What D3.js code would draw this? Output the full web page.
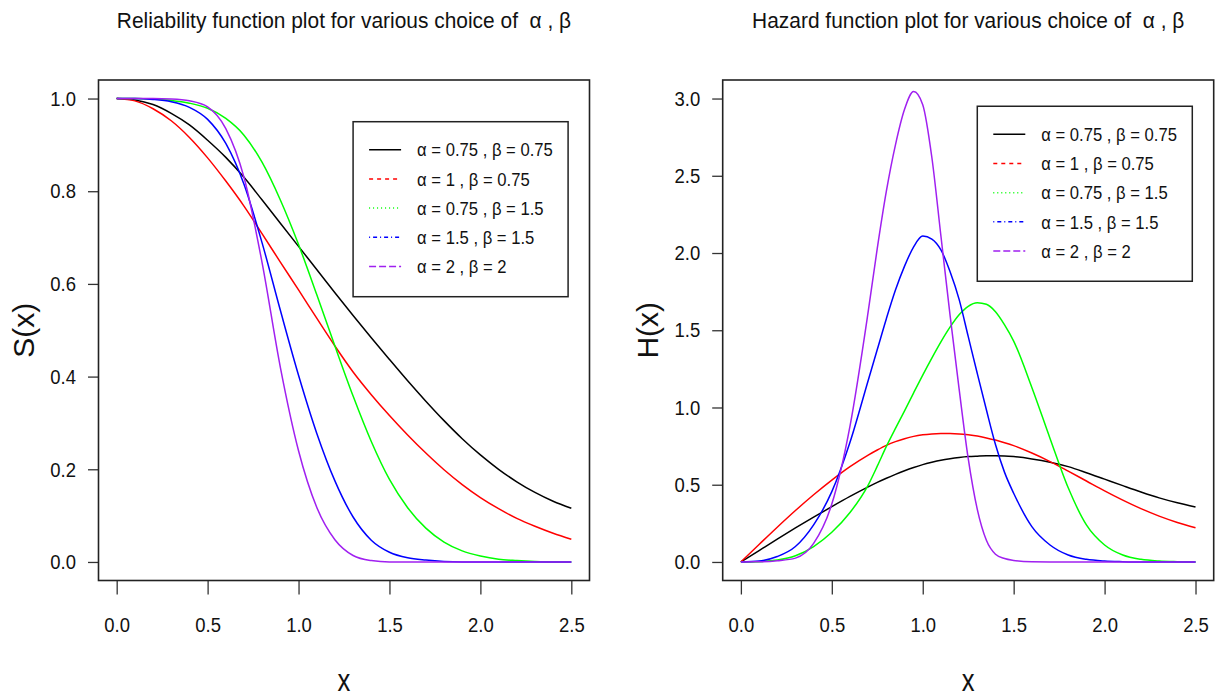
<!DOCTYPE html>
<html>
<head>
<meta charset="utf-8">
<script src="https://cdn.jsdelivr.net/npm/d3@7"></script>
<style>
html, body { margin: 0; padding: 0; background: #ffffff; }
svg { display: block; font-family: "Liberation Sans", Arial, Helvetica, sans-serif; }
text { white-space: pre; }
</style>
</head>
<body>
<svg id="chart" width="1227" height="700"></svg>
<script>
// ---------- data ----------
const xS = [0,0.1,0.2,0.3,0.4,0.5,0.6,0.7,0.8,0.9,1.0,1.1,1.2,1.3,1.4,1.5,1.6,1.7,1.8,1.9,2.0,2.1,2.2,2.3,2.4,2.5];
const sBlack  = [1.000,0.997,0.987,0.968,0.943,0.910,0.873,0.830,0.781,0.731,0.681,0.631,0.581,0.532,0.484,0.437,0.391,0.347,0.305,0.266,0.231,0.200,0.173,0.150,0.131,0.116];
const sRed    = [1.000,0.995,0.978,0.952,0.916,0.872,0.822,0.768,0.708,0.647,0.587,0.526,0.466,0.410,0.361,0.316,0.274,0.235,0.199,0.167,0.139,0.115,0.094,0.077,0.062,0.049];
const sGreen  = [1.000,1.000,0.999,0.996,0.990,0.979,0.957,0.921,0.862,0.781,0.685,0.577,0.466,0.358,0.260,0.178,0.117,0.073,0.043,0.024,0.013,0.006,0.003,0.001,0.000,0.000];
const sBlue   = [1.000,1.000,0.998,0.993,0.981,0.955,0.903,0.815,0.688,0.543,0.403,0.278,0.175,0.097,0.047,0.021,0.009,0.004,0.001,0,0,0,0,0,0,0];
const sPurple = [1.000,1.000,1.000,0.999,0.995,0.982,0.935,0.830,0.645,0.420,0.240,0.118,0.048,0.014,0.003,0,0,0,0,0,0,0,0,0,0,0];

const xH = [0,0.1,0.2,0.3,0.4,0.5,0.6,0.7,0.75,0.8,0.85,0.9,0.95,1.0,1.05,1.1,1.15,1.2,1.25,1.3,1.35,1.4,1.45,1.5,1.6,1.7,1.8,1.9,2.0,2.1,2.2,2.3,2.4,2.5];
const hBlack  = [0,0.074,0.148,0.220,0.290,0.358,0.424,0.486,0.515,0.542,0.567,0.590,0.611,0.630,0.645,0.658,0.668,0.676,0.682,0.685,0.687,0.687,0.686,0.682,0.667,0.646,0.617,0.578,0.536,0.494,0.453,0.415,0.383,0.356];
const hRed    = [0,0.113,0.225,0.333,0.435,0.530,0.617,0.692,0.725,0.755,0.779,0.798,0.813,0.823,0.829,0.832,0.832,0.829,0.823,0.815,0.803,0.789,0.772,0.753,0.705,0.650,0.588,0.524,0.460,0.400,0.345,0.297,0.256,0.222];
const hGreen  = [0,0.002,0.012,0.040,0.100,0.192,0.320,0.498,0.620,0.748,0.865,0.978,1.095,1.210,1.320,1.425,1.520,1.600,1.655,1.678,1.668,1.620,1.535,1.430,1.130,0.800,0.480,0.240,0.110,0.045,0.017,0.006,0.002,0.000];
const hBlue   = [0,0.006,0.035,0.100,0.240,0.455,0.775,1.175,1.375,1.575,1.760,1.915,2.040,2.110,2.090,2.020,1.880,1.700,1.460,1.220,0.985,0.760,0.580,0.445,0.229,0.110,0.045,0.017,0.006,0.002,0,0,0,0];
const hPurple = [0,0.001,0.008,0.025,0.120,0.375,0.880,1.620,2.030,2.400,2.700,2.930,3.045,2.960,2.620,2.110,1.600,1.120,0.670,0.340,0.140,0.050,0.022,0.010,0.001,0,0,0,0,0,0,0,0,0];

const seriesLabels = ["α = 0.75 , β = 0.75", "α = 1 , β = 0.75", "α = 0.75 , β = 1.5", "α = 1.5 , β = 1.5", "α = 2 , β = 2"];
const seriesColors = ["#000000", "#FF0000", "#00FF00", "#0000FF", "#A020F0"];
const legendDash   = [null, "4,4", "1,3", "1,3,4,3", "7,3"];

const xLim = [0, 2.5];
const xTicks = [0, 0.5, 1.0, 1.5, 2.0, 2.5];
const yLimS = [0, 1];
const yTicksS = [0, 0.2, 0.4, 0.6, 0.8, 1.0];
const yLimH = [0, 3];
const yTicksH = [0, 0.5, 1.0, 1.5, 2.0, 2.5, 3.0];
const titles = ["Reliability function plot for various choice of  α , β",
                "Hazard function plot for various choice of  α , β"];
const yLabels = ["S(x)", "H(x)"];
const xLabel = "x";
const legendPos = [[1.3, 0.95], [1.3, 2.95]];

// ---------- drawing ----------
const svg = d3.select("#chart");
svg.append("rect").attr("width", 1227).attr("height", 700).attr("fill", "#ffffff");

function squeeze(sel, k) {
  sel.each(function () {
    const t = d3.select(this);
    const x = +t.attr("x") || 0;
    t.attr("transform", `translate(${x},0) scale(${k},1) translate(${-x},0)`);
  });
}
const expand = l => [l[0] - 0.04 * (l[1] - l[0]), l[1] + 0.04 * (l[1] - l[0])];

function panel(cfg) {
  const { left, right, top, bottom, xs, ys, yLim, yTicks, title, ylab, legend } = cfg;
  const x = d3.scaleLinear().domain(expand(xLim)).range([left, right]);
  const y = d3.scaleLinear().domain(expand(yLim)).range([bottom, top]);
  const g = svg.append("g");

  // axes
  const ax = g.append("g").attr("transform", `translate(0,${bottom})`)
    .call(d3.axisBottom(x).tickValues(xTicks).tickFormat(d3.format(".1f"))
      .tickSize(14).tickPadding(23).tickSizeOuter(0));
  ax.select(".domain").remove();
  ax.selectAll("line").attr("stroke", "#333").attr("stroke-width", 1.3);
  ax.selectAll("text").attr("font-size", 21).attr("fill", "#111");
  squeeze(ax.selectAll("text"), 0.88);

  const ay = g.append("g").attr("transform", `translate(${left},0)`)
    .call(d3.axisLeft(y).tickValues(yTicks).tickFormat(d3.format(".1f"))
      .tickSize(10.5).tickPadding(12).tickSizeOuter(0));
  ay.select(".domain").remove();
  ay.selectAll("line").attr("stroke", "#333").attr("stroke-width", 1.3);
  ay.selectAll("text").attr("font-size", 21).attr("fill", "#111");
  squeeze(ay.selectAll("text"), 0.88);
  ax.attr("font-family", null).attr("font-size", null);
  ay.attr("font-family", null).attr("font-size", null);

  // curves
  const line = d3.line().x(d => x(d[0])).y(d => y(d[1])).curve(d3.curveMonotoneX);
  ys.forEach((vals, i) => {
    g.append("path")
      .datum(xs.map((xv, j) => [xv, vals[j]]))
      .attr("fill", "none")
      .attr("stroke", seriesColors[i])
      .attr("stroke-width", 1.5)
      .attr("stroke-linejoin", "round")
      .attr("d", line);
  });

  // box
  g.append("rect").attr("x", left).attr("y", top)
    .attr("width", right - left).attr("height", bottom - top)
    .attr("fill", "none").attr("stroke", "#222").attr("stroke-width", 1.6);

  // title
  const tt = g.append("text").attr("x", (left + right) / 2).attr("y", 28)
    .attr("text-anchor", "middle").attr("font-size", 22.5).attr("fill", "#111").text(title);
  squeeze(tt, 0.93);

  // axis labels
  g.append("text")
    .attr("transform", `translate(${left - 65},${(top + bottom) / 2}) rotate(-90)`)
    .attr("text-anchor", "middle").attr("font-size", 30).attr("fill", "#111").text(ylab);
  const xl = g.append("text").attr("x", (left + right) / 2).attr("y", 691.5)
    .attr("text-anchor", "middle").attr("font-size", 32).attr("fill", "#111").text(xLabel);
  squeeze(xl, 0.8);

  // legend
  const lx = x(legend[0]), ly = y(legend[1]);
  const lg = g.append("g").attr("transform", `translate(${lx},${ly})`);
  lg.append("rect").attr("width", 215).attr("height", 175)
    .attr("fill", "#ffffff").attr("stroke", "#222").attr("stroke-width", 1.5);
  seriesLabels.forEach((lab, i) => {
    const ry = 28 + i * 29.2;
    lg.append("line").attr("x1", 16).attr("x2", 48).attr("y1", ry).attr("y2", ry)
      .attr("stroke", seriesColors[i]).attr("stroke-width", 1.5)
      .attr("stroke-dasharray", legendDash[i]);
    const t = lg.append("text").attr("x", 64).attr("y", ry).attr("dy", "0.36em")
      .attr("font-size", 18.5).attr("fill", "#111").text(lab);
    squeeze(t, 0.9);
  });
}

panel({ left: 98.5, right: 589.5, top: 80, bottom: 580.5, xs: xS,
        ys: [sBlack, sRed, sGreen, sBlue, sPurple], yLim: yLimS, yTicks: yTicksS,
        title: titles[0], ylab: yLabels[0], legend: legendPos[0] });
panel({ left: 722.7, right: 1213.7, top: 80, bottom: 580.5, xs: xH,
        ys: [hBlack, hRed, hGreen, hBlue, hPurple], yLim: yLimH, yTicks: yTicksH,
        title: titles[1], ylab: yLabels[1], legend: legendPos[1] });
</script>
</body>
</html>
